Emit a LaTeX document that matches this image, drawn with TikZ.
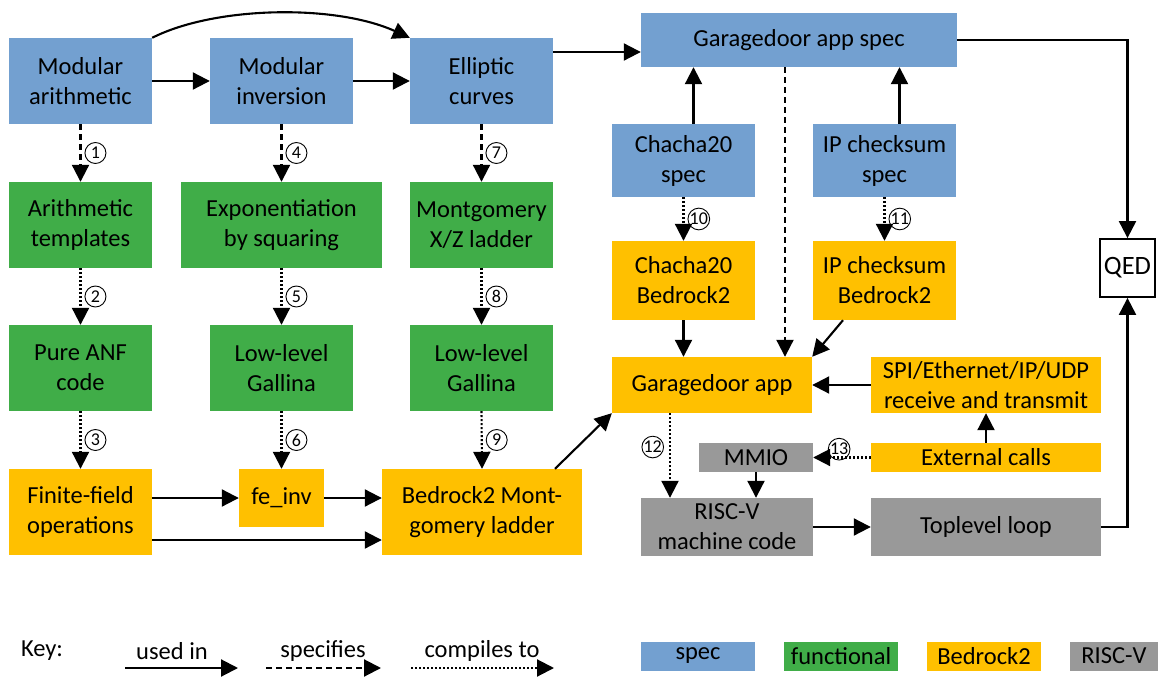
\documentclass[tikz,border=0pt]{standalone}
\usepackage{fontspec}
\setmainfont{Carlito}
\usetikzlibrary{arrows.meta}
\definecolor{cspec}{RGB}{115,160,208}
\definecolor{cfunc}{RGB}{64,173,72}
\definecolor{cbed}{RGB}{255,192,0}
\definecolor{crv}{RGB}{153,153,153}
\begin{document}
\begin{tikzpicture}[x=1pt,y=-1pt,
  box/.style={rectangle, inner sep=0pt, align=center, text=black,
    font=\fontsize{24.5}{30}\selectfont},
  specbox/.style={box, fill=cspec},
  funcbox/.style={box, fill=cfunc},
  bedbox/.style={box, fill=cbed},
  rvbox/.style={box, fill=crv},
  sz/.style 2 args={minimum width=#1pt, minimum height=#2pt},
  arr/.style={line width=2.1pt, -{Triangle[length=17pt,width=17pt]}},
  dsh/.style={arr, dash pattern=on 6pt off 4pt},
  dtt/.style={arr, dash pattern=on 2pt off 2pt},
  num/.style={circle, draw, solid, line width=0.9pt, inner sep=0pt, minimum size=21pt,
    font=\fontsize{18}{18}\selectfont},
  lbl/.style={inner sep=0pt, font=\fontsize{24.5}{30}\selectfont}
]
\useasboundingbox (0,0) rectangle (1159,679);
\fill[white] (0,0) rectangle (1159,679);

% ---- curve25519 column: spec, functional and Bedrock2 layers
\node[specbox, sz={143}{86}] (ma) at (80.5,81) {Modular\\arithmetic};
\node[specbox, sz={143}{86}] (mi) at (281.5,81) {Modular\\inversion};
\node[specbox, sz={143}{86}] (ec) at (481.5,81) {Elliptic\\curves};

\node[funcbox, sz={143}{86}] (at) at (80.5,225) {Arithmetic\\templates};
\node[funcbox, sz={201}{86}] (ebs) at (281.5,225) {Exponentiation\\by squaring};
\node[funcbox, sz={143}{86}] (mxz) at (481.5,225) {Montgomery\\X/Z ladder};

\node[funcbox, sz={143}{86}] (pac) at (80.5,368) {Pure ANF\\code};
\node[funcbox, sz={143}{86}] (llga) at (281.5,368) {Low-level\\Gallina};
\node[funcbox, sz={143}{86}] (llgb) at (481.5,368) {Low-level\\Gallina};

\node[bedbox, sz={143}{86}] (ffo) at (80.5,512) {Finite-field\\operations};
\node[bedbox, sz={85}{58}] (fei) at (281.5,498) {fe\_inv};
\node[bedbox, sz={200}{86}] (bml) at (482,512) {Bedrock2 Mont-\\gomery ladder};

% ---- application side
\node[specbox, sz={316}{54}] (gas) at (799,40) {Garagedoor app spec};
\node[specbox, sz={143}{73}] (chs) at (683.5,160.5) {Chacha20\\spec};
\node[specbox, sz={143}{73}] (ips) at (884.5,160.5) {IP checksum\\spec};
\node[bedbox, sz={143}{79}] (chb) at (683.5,280.5) {Chacha20\\Bedrock2};
\node[bedbox, sz={143}{79}] (ipb) at (884.5,280.5) {IP checksum\\Bedrock2};
\node[bedbox, sz={200}{56}] (gda) at (712,385) {Garagedoor app};
\node[bedbox, sz={230}{56}] (spi) at (986,385) {SPI/Ethernet/IP/UDP\\receive and transmit};
\node[rvbox, sz={114}{29}] (mmio) at (756,457.5) {MMIO};
\node[bedbox, sz={230}{29}] (ext) at (986,457.5) {External calls};
\node[rvbox, sz={172}{58}] (rv) at (727,527) {RISC-V\\machine code};
\node[rvbox, sz={230}{58}] (tl) at (986,527) {Toplevel loop};
\node[box, draw, line width=1.8pt, sz={55}{58}, font=\fontsize{26.5}{30}\selectfont] (qed) at (1127.5,268) {QED};

% ---- connectors, left part
\draw[arr] (ma.east) -- (mi.west);
\draw[arr] (mi.east) -- (ec.west);
\draw[arr] (ma.north east) .. controls (215,6) and (335,4) .. (ec.north west);
\coordinate (ecout) at (0,52);
\draw[arr] (ec.east |- ecout) -- (gas.west |- ecout);

\draw[dsh] (ma.south) -- (at.north) node[num, midway, right=4pt] (n1) {1};
\draw[dtt] (at.south) -- (pac.north) node[num, midway, right=4pt] (n2) {2};
\draw[dtt] (pac.south) -- (ffo.north) node[num, midway, right=4pt] (n3) {3};
\draw[dsh] (mi.south) -- (ebs.north) node[num, midway, right=4pt] (n4) {4};
\draw[dtt] (ebs.south) -- (llga.north) node[num, midway, right=4pt] (n5) {5};
\draw[dtt] (llga.south) -- (fei.north) node[num, midway, right=4pt] (n6) {6};
\draw[dsh] (ec.south) -- (mxz.north) node[num, midway, right=4pt] (n7) {7};
\draw[dtt] (mxz.south) -- (llgb.north) node[num, midway, right=4pt] (n8) {8};
\draw[dtt] (llgb.south) -- (bml.north) node[num, midway, right=4pt] (n9) {9};

\draw[arr] (ffo.east |- fei.west) -- (fei.west);
\draw[arr] (fei.east) -- (bml.west |- fei.east);
\coordinate (low) at (0,540);
\draw[arr] (ffo.east |- low) -- (bml.west |- low);
\draw[arr] ([xshift=73pt]bml.north) -- (gda.south west);

% ---- connectors, right part
\draw[arr] ([xshift=10pt]chs.north) -- ([xshift=10pt]chs.north |- gas.south);
\draw[arr] ([xshift=15pt]ips.north) -- ([xshift=15pt]ips.north |- gas.south);
\draw[dtt] (chs.south) -- (chb.north) node[num, midway, right=4pt] (n10) {10};
\draw[dtt] (ips.south) -- (ipb.north) node[num, midway, right=4pt] (n11) {11};
\draw[arr] (chb.south) -- (chb.south |- gda.north);
\draw[dsh] ([xshift=-14pt]gas.south) -- ([xshift=-14pt]gas.south |- gda.north);
\draw[arr] ([xshift=-41.5pt]ipb.south) -- (gda.north east);
\draw[arr] (spi.west) -- (gda.east);
\draw[arr] (ext.north) -- (spi.south);
\draw[dtt] (ext.west) -- (mmio.east) node[num, pos=0.55, above=-3pt] (n13) {13};
\draw[arr] (mmio.south) -- (mmio.south |- rv.north);
\draw[dtt] ([xshift=-42pt]gda.south) -- ([xshift=-42pt]gda.south |- rv.north)
  node[num, pos=0.4, left=6pt] (n12) {12};
\draw[arr] (rv.east) -- (tl.west);
\draw[arr] (gas.east) -| (qed.north);
\draw[arr] (tl.east) -| (qed.south);

% ---- key
\node[lbl] (key) at (42,651) {Key:};
\node[lbl] (kused) at (172,651) {used in};
\node[lbl] (kspec) at (323,651) {specifies};
\node[lbl] (kcomp) at (482,651) {compiles to};
\coordinate (ka1) at (125,668); \coordinate (ka2) at (238,668);
\coordinate (kb1) at (266,668); \coordinate (kb2) at (381,668);
\coordinate (kc1) at (411,668); \coordinate (kc2) at (554,668);
\draw[arr] (ka1) -- (ka2);
\draw[dsh] (kb1) -- (kb2);
\draw[dtt] (kc1) -- (kc2);
\node[specbox, sz={114}{29}] (lspec) at (698,656) {spec};
\node[funcbox, sz={114}{29}] (lfunc) at (841,656) {functional};
\node[bedbox, sz={114}{29}] (lbed) at (984,656) {Bedrock2};
\node[rvbox, sz={88}{29}] (lrv) at (1114,656) {RISC-V};
\end{tikzpicture}
\end{document}
